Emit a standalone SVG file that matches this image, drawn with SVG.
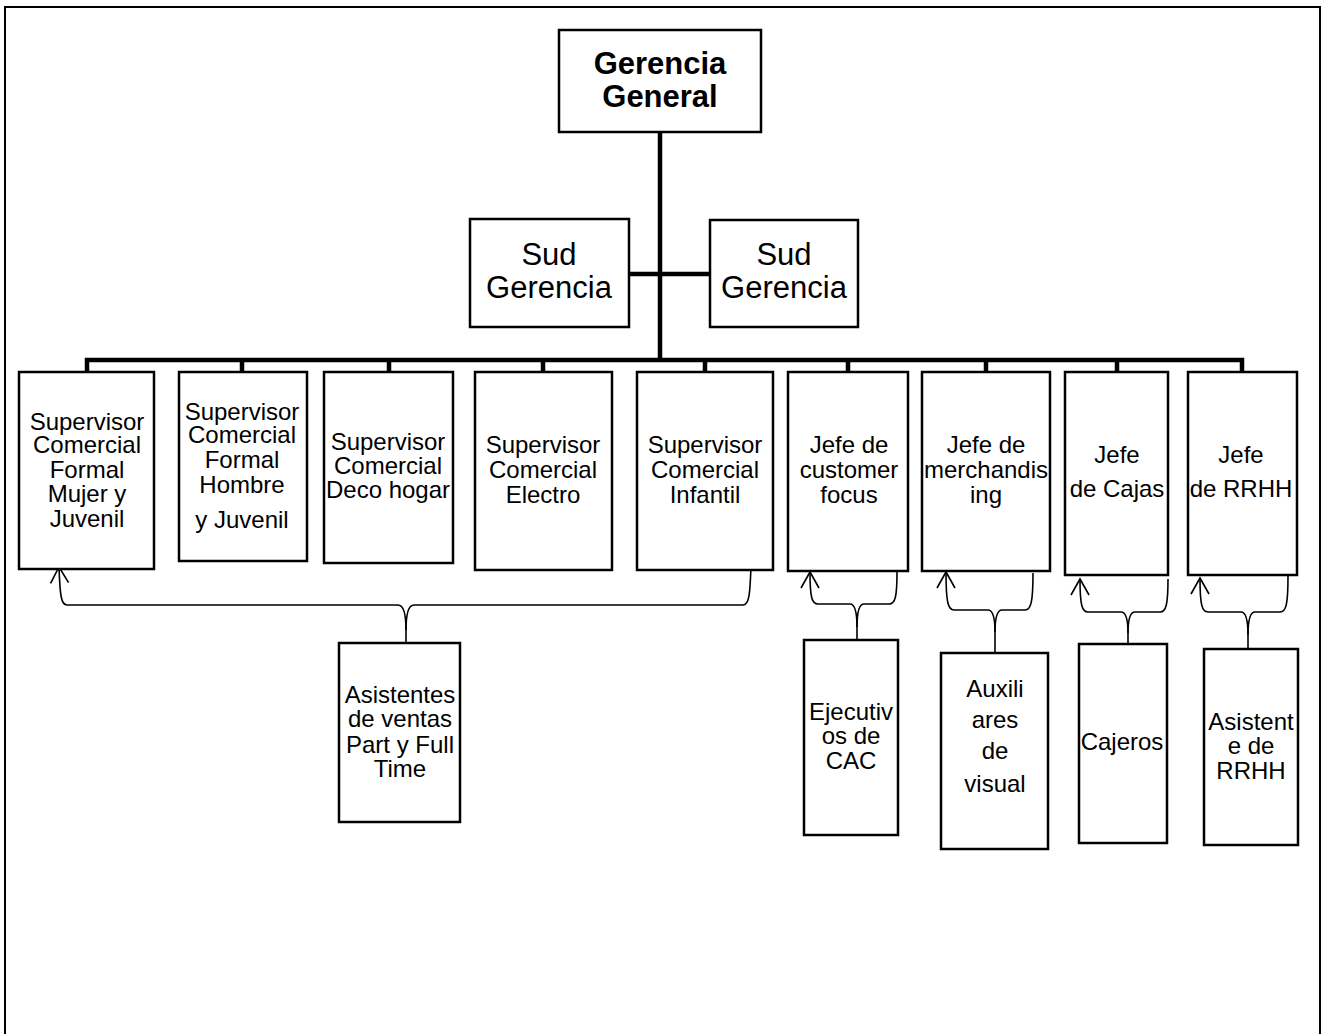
<svg xmlns="http://www.w3.org/2000/svg" width="1325" height="1034" viewBox="0 0 1325 1034">
<defs>
<style>
.box{fill:#fff;stroke:#000;stroke-width:2.5}
.t{font-family:"Liberation Sans",Arial,sans-serif;font-size:24px;fill:#000;text-anchor:middle}
.big{font-size:31px}
.bold{font-weight:bold}
.thick{fill:none;stroke:#000;stroke-width:4.5}
.brace{fill:none;stroke:#000;stroke-width:1.6}
</style>
<marker id="open" viewBox="0 0 16 18" refX="16" refY="9" markerWidth="16" markerHeight="18" markerUnits="userSpaceOnUse" orient="auto-start-reverse" style="overflow:visible">
<path d="M0,0 L16,9 L0,18" fill="none" stroke="#000" stroke-width="1.6"/>
</marker>
</defs>
<rect width="1325" height="1034" fill="#fff"/>
<path d="M5,1034 V7 H1320 V1034" fill="none" stroke="#000" stroke-width="2"/>

<g id="connectors">
<path class="thick" d="M660,132 V360" stroke-width="5"/>
<path class="thick" d="M629,274 H710"/>
<path class="thick" d="M87,372 V360 H1242 V372"/>
<path class="thick" d="M242,360 V372 M389,360 V372 M543,360 V372 M705,360 V372 M848,360 V372 M986,360 V372 M1117,360 V372"/>
<!-- braces -->
<path class="brace" marker-start="url(#open)" d="M59,567 C60,595 61,605 67,605 L398,605 C404,605 406,615 406,630 L406,643"/>
<path class="brace" d="M751,566 C750,595 749,605 743,605 L414,605 C408,605 406,615 406,630"/>
<path class="brace" marker-start="url(#open)" d="M810,572 C810,598 812,604 818,604 L850,604 C855,604 857,612 857,627 L857,640"/>
<path class="brace" d="M897,572 C897,598 895,604 889,604 L864,604 C859,604 857,612 857,627"/>
<path class="brace" marker-start="url(#open)" d="M946,572 C946,602 948,610 954,610 L988,610 C993,610 995,618 995,632 L995,653"/>
<path class="brace" d="M1033,573 C1033,602 1031,610 1025,610 L1002,610 C997,610 995,618 995,632"/>
<path class="brace" marker-start="url(#open)" d="M1080,579 C1080,605 1082,612 1088,612 L1121,612 C1126,612 1128,620 1128,633 L1128,644"/>
<path class="brace" d="M1168,579 C1168,605 1166,612 1160,612 L1135,612 C1130,612 1128,620 1128,633"/>
<path class="brace" marker-start="url(#open)" d="M1200,578 C1200,605 1202,612 1208,612 L1241,612 C1246,612 1248,621 1248,635 L1248,649"/>
<path class="brace" d="M1288,576 C1288,605 1286,612 1280,612 L1255,612 C1250,612 1248,621 1248,635"/>
</g>

<g id="gerencia-general">
<rect class="box" x="559" y="30" width="202" height="102"/>
<text class="t big bold"><tspan x="660" y="74">Gerencia</tspan><tspan x="660" y="107">General</tspan></text>
</g>
<g id="sud-gerencia-1">
<rect class="box" x="470" y="219" width="159" height="108"/>
<text class="t big"><tspan x="549" y="265">Sud</tspan><tspan x="549" y="298">Gerencia</tspan></text>
</g>
<g id="sud-gerencia-2">
<rect class="box" x="710" y="220" width="148" height="107"/>
<text class="t big"><tspan x="784" y="265">Sud</tspan><tspan x="784" y="298">Gerencia</tspan></text>
</g>

<g id="sup-mujer">
<rect class="box" x="19" y="372" width="135" height="197"/>
<text class="t"><tspan x="87" y="430">Supervisor</tspan><tspan x="87" y="453">Comercial</tspan><tspan x="87" y="478">Formal</tspan><tspan x="87" y="502">Mujer y</tspan><tspan x="87" y="527">Juvenil</tspan></text>
</g>
<g id="sup-hombre">
<rect class="box" x="179" y="372" width="128" height="189"/>
<text class="t"><tspan x="242" y="420">Supervisor</tspan><tspan x="242" y="443">Comercial</tspan><tspan x="242" y="468">Formal</tspan><tspan x="242" y="493">Hombre</tspan><tspan x="242" y="528">y Juvenil</tspan></text>
</g>
<g id="sup-deco">
<rect class="box" x="324" y="372" width="129" height="191"/>
<text class="t"><tspan x="388" y="450">Supervisor</tspan><tspan x="388" y="474">Comercial</tspan><tspan x="388" y="498">Deco hogar</tspan></text>
</g>
<g id="sup-electro">
<rect class="box" x="475" y="372" width="137" height="198"/>
<text class="t"><tspan x="543" y="453">Supervisor</tspan><tspan x="543" y="478">Comercial</tspan><tspan x="543" y="503">Electro</tspan></text>
</g>
<g id="sup-infantil">
<rect class="box" x="637" y="372" width="136" height="198"/>
<text class="t"><tspan x="705" y="453">Supervisor</tspan><tspan x="705" y="478">Comercial</tspan><tspan x="705" y="503">Infantil</tspan></text>
</g>
<g id="jefe-customer">
<rect class="box" x="788" y="372" width="120" height="199"/>
<text class="t"><tspan x="849" y="453">Jefe de</tspan><tspan x="849" y="478">customer</tspan><tspan x="849" y="503">focus</tspan></text>
</g>
<g id="jefe-merch">
<rect class="box" x="922" y="372" width="128" height="199"/>
<text class="t"><tspan x="986" y="453">Jefe de</tspan><tspan x="986" y="478">merchandis</tspan><tspan x="986" y="503">ing</tspan></text>
</g>
<g id="jefe-cajas">
<rect class="box" x="1065" y="372" width="103" height="203"/>
<text class="t"><tspan x="1117" y="463">Jefe</tspan><tspan x="1117" y="497">de Cajas</tspan></text>
</g>
<g id="jefe-rrhh">
<rect class="box" x="1188" y="372" width="109" height="203"/>
<text class="t"><tspan x="1241" y="463">Jefe</tspan><tspan x="1241" y="497">de RRHH</tspan></text>
</g>

<g id="asistentes-ventas">
<rect class="box" x="339" y="643" width="121" height="179"/>
<text class="t"><tspan x="400" y="703">Asistentes</tspan><tspan x="400" y="727">de ventas</tspan><tspan x="400" y="753">Part y Full</tspan><tspan x="400" y="777">Time</tspan></text>
</g>
<g id="ejecutivos-cac">
<rect class="box" x="804" y="640" width="94" height="195"/>
<text class="t"><tspan x="851" y="720">Ejecutiv</tspan><tspan x="851" y="744">os de</tspan><tspan x="851" y="769">CAC</tspan></text>
</g>
<g id="auxiliares-visual">
<rect class="box" x="941" y="653" width="107" height="196"/>
<text class="t"><tspan x="995" y="697">Auxili</tspan><tspan x="995" y="728">ares</tspan><tspan x="995" y="759">de</tspan><tspan x="995" y="792">visual</tspan></text>
</g>
<g id="cajeros">
<rect class="box" x="1079" y="644" width="88" height="199"/>
<text class="t"><tspan x="1122" y="750">Cajeros</tspan></text>
</g>
<g id="asistente-rrhh">
<rect class="box" x="1204" y="649" width="94" height="196"/>
<text class="t"><tspan x="1251" y="730">Asistent</tspan><tspan x="1251" y="754">e de</tspan><tspan x="1251" y="779">RRHH</tspan></text>
</g>
</svg>
